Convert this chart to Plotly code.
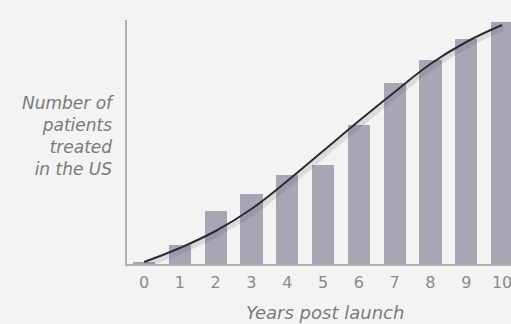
import plotly.graph_objects as go

years = list(range(11))
tick_labels = [str(y) for y in years]
patients_bars = [1.5, 19, 53, 70, 89, 99, 139, 181, 204, 225, 242]
trend_curve = [2, 16, 33, 55, 83, 113, 143, 172, 200, 222, 239]

bg = "#f3f3f3"
bar_color = "#a8a6b4"
line_color = "#2a2a36"
text_color = "#7a7a7a"

fig = go.Figure()
fig.add_trace(go.Bar(x=years, y=patients_bars, width=0.62,
                     marker=dict(color=bar_color, line=dict(width=0)),
                     hoverinfo="skip"))
# soft shadow under the trend line
fig.add_trace(go.Scatter(x=[v + 0.06 for v in years], y=[v - 3 for v in trend_curve],
                         mode="lines", line=dict(color="rgba(60,60,70,0.13)", width=5,
                                                 shape="spline", smoothing=1.2),
                         hoverinfo="skip"))
fig.add_trace(go.Scatter(x=years, y=trend_curve, mode="lines",
                         line=dict(color=line_color, width=2, shape="spline", smoothing=1.2),
                         hoverinfo="skip"))

fig.update_layout(
    width=511, height=324,
    margin=dict(l=127, r=0, t=20, b=60),
    paper_bgcolor=bg, plot_bgcolor=bg,
    showlegend=False,
    bargap=0,
    font=dict(family="DejaVu Sans", color=text_color),
    xaxis=dict(range=[-0.475, 10.25], tickmode="array", tickvals=years, ticktext=tick_labels,
               showgrid=False, zeroline=False, showline=True, linecolor="#b0b0b0", linewidth=1.5,
               ticks="", ticklabeloverflow="allow", ticklabelstandoff=3,
               tickfont=dict(size=16, color="#8a8a8a")),
    yaxis=dict(range=[0, 244], showgrid=False, zeroline=False, showline=True,
               linecolor="#b0b0b0", linewidth=1.5, showticklabels=False, ticks=""),
    annotations=[
        dict(text="<i>Number of<br>patients<br>treated<br>in the US</i>", xref="paper", yref="paper",
             x=-0.026, y=0.525, xanchor="right", yanchor="middle", align="right", showarrow=False,
             font=dict(size=17, color=text_color)),
        dict(text="<i>Years post launch</i>", xref="paper", yref="paper",
             x=(325 - 127) / 384, y=-(312 - 264) / 244, xanchor="center", yanchor="middle",
             showarrow=False, font=dict(size=18, color=text_color)),
    ],
)

fig.write_html("out.html")
